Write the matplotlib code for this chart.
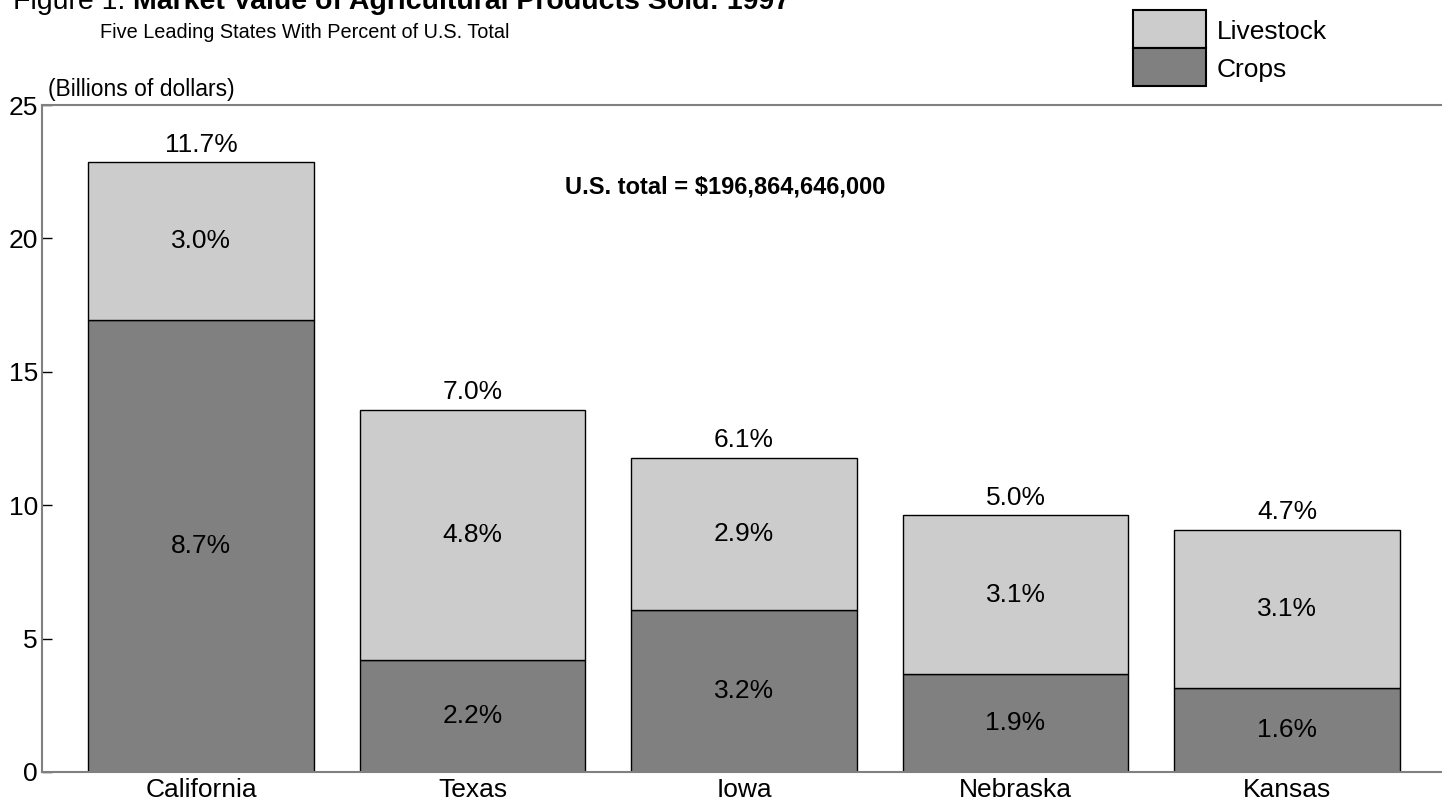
import matplotlib
matplotlib.use('Agg')
import matplotlib.pyplot as plt
from matplotlib.patches import Rectangle
import numpy as np

plt.rcParams['font.family'] = ['Liberation Sans', 'DejaVu Sans']

states = ['California', 'Texas', 'Iowa', 'Nebraska', 'Kansas']
crops = [16.94, 4.20, 6.07, 3.67, 3.15]
livestock = [5.92, 9.37, 5.70, 5.96, 5.92]
crops_pct = ['8.7%', '2.2%', '3.2%', '1.9%', '1.6%']
livestock_pct = ['3.0%', '4.8%', '2.9%', '3.1%', '3.1%']
total_pct = ['11.7%', '7.0%', '6.1%', '5.0%', '4.7%']
yticks = [0, 5, 10, 15, 20, 25]

crop_col = '#808080'
live_col = '#cccccc'
spine_col = '#808080'
fs = 19

fig = plt.figure(figsize=(14.42, 8.06), dpi=100)
ax = fig.add_axes([0.0291, 0.0422, 0.9709, 0.8275])

x = np.arange(len(states))
width = 0.83
b1 = ax.bar(x, crops, width, color=crop_col, edgecolor='black', linewidth=1)
b2 = ax.bar(x, livestock, width, bottom=crops, color=live_col, edgecolor='black', linewidth=1)

ax.bar_label(b1, labels=crops_pct, label_type='center', fontsize=fs)
ax.bar_label(b2, labels=livestock_pct, label_type='center', fontsize=fs)
ax.bar_label(b2, labels=total_pct, label_type='edge', padding=4, fontsize=fs)

ax.set_xlim(-0.586, 4.571)
ax.set_ylim(0, 25)
ax.set_yticks(yticks)
ax.set_xticks(x)
ax.set_xticklabels(states, fontsize=fs)
ax.tick_params(axis='y', direction='in', length=7, width=1, color='black', labelsize=fs, pad=3)
ax.tick_params(axis='x', length=0, pad=4)

for s in ['left', 'top', 'bottom']:
    ax.spines[s].set_color(spine_col)
    ax.spines[s].set_linewidth(1.5)
ax.spines['right'].set_visible(False)

ax.text(0.0042, 1.006, '(Billions of dollars)', transform=ax.transAxes,
        fontsize=16.5, ha='left', va='bottom')
ax.text(0.3736, 0.877, 'U.S. total = $196,864,646,000', transform=ax.transAxes,
        fontsize=17, fontweight='bold', ha='left', va='center')

# title block
fig.text(125 / 1442, 1 - 9 / 806, 'Figure 1.', fontsize=20.5, ha='right', va='baseline')
fig.text(133 / 1442, 1 - 9 / 806, 'Market Value of Agricultural Products Sold: 1997',
         fontsize=20.5, fontweight='bold', ha='left', va='baseline')
fig.text(100 / 1442, 1 - 32 / 806, 'Five Leading States With Percent of U.S. Total',
         fontsize=14.3, ha='left', va='center')

# legend boxes
lx, lw_ = 1133 / 1442, 73 / 1442
fig.patches.append(Rectangle((lx, 1 - 48 / 806), lw_, 38 / 806, transform=fig.transFigure,
                             facecolor=live_col, edgecolor='black', linewidth=1.5))
fig.patches.append(Rectangle((lx, 1 - 86 / 806), lw_, 38 / 806, transform=fig.transFigure,
                             facecolor=crop_col, edgecolor='black', linewidth=1.5))
fig.text(1217 / 1442, 1 - 32 / 806, 'Livestock', fontsize=fs, ha='left', va='center')
fig.text(1217 / 1442, 1 - 70 / 806, 'Crops', fontsize=fs, ha='left', va='center')

plt.savefig('out.png', dpi=100)
plt.close()
